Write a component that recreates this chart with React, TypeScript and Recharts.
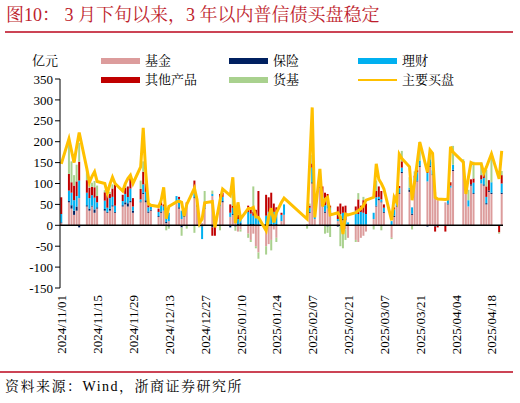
import React from 'react';
import { ComposedChart, Bar, Line, XAxis, YAxis, ReferenceLine } from 'recharts';

// trading days (calendar axis, weekends/holidays empty)
const tradeDates = [
  '2024/11/01',
  '2024/11/04', '2024/11/05', '2024/11/06', '2024/11/07', '2024/11/08',
  '2024/11/11', '2024/11/12', '2024/11/13', '2024/11/14', '2024/11/15',
  '2024/11/18', '2024/11/19', '2024/11/20', '2024/11/21', '2024/11/22',
  '2024/11/25', '2024/11/26', '2024/11/27', '2024/11/28', '2024/11/29',
  '2024/12/02', '2024/12/03', '2024/12/04', '2024/12/05', '2024/12/06',
  '2024/12/09', '2024/12/10', '2024/12/11', '2024/12/12', '2024/12/13',
  '2024/12/16', '2024/12/17', '2024/12/18', '2024/12/19', '2024/12/20',
  '2024/12/23', '2024/12/24', '2024/12/25', '2024/12/26', '2024/12/27',
  '2024/12/30', '2024/12/31', '2025/01/02', '2025/01/03',
  '2025/01/06', '2025/01/07', '2025/01/08', '2025/01/09', '2025/01/10',
  '2025/01/13', '2025/01/14', '2025/01/15', '2025/01/16', '2025/01/17',
  '2025/01/20', '2025/01/21', '2025/01/22', '2025/01/23', '2025/01/24',
  '2025/01/26', '2025/01/27',
  '2025/02/05', '2025/02/06', '2025/02/07', '2025/02/08',
  '2025/02/10', '2025/02/11', '2025/02/12', '2025/02/13', '2025/02/14',
  '2025/02/17', '2025/02/18', '2025/02/19', '2025/02/20', '2025/02/21',
  '2025/02/24', '2025/02/25', '2025/02/26', '2025/02/27', '2025/02/28',
  '2025/03/03', '2025/03/04', '2025/03/05', '2025/03/06', '2025/03/07',
  '2025/03/10', '2025/03/11', '2025/03/12', '2025/03/13', '2025/03/14',
  '2025/03/17', '2025/03/18', '2025/03/19', '2025/03/20', '2025/03/21',
  '2025/03/24', '2025/03/25', '2025/03/26', '2025/03/27', '2025/03/28',
  '2025/03/31', '2025/04/01', '2025/04/02', '2025/04/03',
  '2025/04/07', '2025/04/08', '2025/04/09', '2025/04/10', '2025/04/11',
  '2025/04/14', '2025/04/15', '2025/04/16', '2025/04/17', '2025/04/18',
  '2025/04/21', '2025/04/22',
];

// 基金
const fund = [
  5,
  55, 40, 25, 35, 65,
  45, 35, 45, 30, 40,
  35, 30, 35, 45, 30,
  45, 50, 45, 55, 30,
  55, 75, 55, 30, 35,
  20, 30, 35, 5, 10,
  55, 40, 15, 20, 45,
  65, 45, 10, 5, 40,
  70, 0, 45, 55,
  20, 25, 10, -15, -10,
  -20, -35, -20, -50, -65,
  -50, -45, -35, -10, -30,
  10, 25,
  3, 30, 100, 15,
  90, 55, 30, 40, 25,
  10, 10, 12, -10, -30,
  -35, -40, -30, -25, -15,
  15, 45, 60, 55, 30,
  -30, 20, 45, 75, 125,
  80, 25, 100, 105, 140,
  105, 140, 120, 80, 60,
  55, 50, 90, 130,
  150, 90, 45, 95, 75,
  100, 95, 50, 80, 75,
  0, 75,
];

// 保险
const insurance = [
  2,
  3, 8, 10, 10, -5,
  3, 5, 2, 8, 3,
  4, 2, 5, 3, 2,
  3, 5, 8, 3, 5,
  2, 3, 5, 3, 2,
  2, 3, 0, 3, -3,
  0, 3, -5, 2, 0,
  2, 3, 0, -3, 2,
  -5, 0, 0, 3,
  -5, 2, -3, 3, 5,
  2, 3, 3, 2, 2,
  3, 2, 3, 2, 3,
  0, 0,
  0, 2, 3, 0,
  2, 3, 3, -3, 2,
  -3, 2, 3, 2, 2,
  0, 2, 2, 0, 2,
  0, 2, 3, 2, 2,
  0, 3, 2, 2, 3,
  5, 3, 4, 2, 3,
  -3, 3, 2, -3, 0,
  0, 2, 0, 3,
  3, 0, 0, 3, 2,
  0, 3, 3, 3, 3,
  0, 3,
];

// 理财
const wealth = [
  20,
  25, 30, 25, 25, 42,
  30, 25, 25, 28, 12,
  20, 10, 25, 20, 15,
  10, 20, 15, 30, 10,
  5, 20, 20, 10, 8,
  10, 15, 10, 10, 20,
  15, 20, 20, 5, 5,
  10, 15, 5, -30, 5,
  5, 8, 5, 10,
  10, 15, 25, 12, 15,
  30, 25, 20, 20, 15,
  20, 30, 30, 30, 25,
  15, 25,
  0, 10, 35, 15,
  10, 10, 15, 10, 15,
  5, 15, 15, 10, 5,
  35, 25, 30, 30, 25,
  15, 20, 5, 5, 10,
  10, 15, 12, 12, 10,
  5, 15, 10, 20, 12,
  20, 15, 10, 0, 0,
  0, 12, 5, 12,
  0, 0, 15, 0, 25,
  10, 15, 15, 0, 25,
  0, 22,
];

// 其他产品
const otherProducts = [
  40,
  40, 25, 35, 35, 45,
  30, 25, 20, 25, 15,
  20, 30, 10, 20, 50,
  15, 15, 25, 25, 20,
  25, 30, 20, 5, 0,
  8, 8, 5, 0, 0,
  0, 5, 0, 5, 5,
  30, 5, 0, 0, 5,
  -20, -25, 25, 10,
  20, 5, 0, 10, 5,
  15, 10, 10, 15, 65,
  50, 35, 45, 20, 15,
  5, 0,
  0, 5, 10, 0,
  0, 25, 30, 25, 5,
  30, 25, 15, 35, 0,
  10, 35, 15, 30, 25,
  0, 15, 25, 20, 8,
  0, 5, 15, 5, 15,
  0, 0, 5, 5, 0,
  5, 0, 0, -12, -5,
  -15, 0, 8, 0,
  0, 15, 0, 12, 10,
  10, 10, 25, 25, 0,
  -17, 20,
];

// 货基
const moneyFund = [
  0,
  70, 50, 25, 40, 45,
  25, 10, 10, 15, 25,
  5, 0, 5, 10, 5,
  0, 10, 0, 5, 0,
  20, 25, 10, 0, 0,
  0, 0, 0, -12, -5,
  0, 0, -20, 0, -8,
  -18, 0, -5, 0, 30,
  8, 0, -12, 0,
  0, 30, -10, 25, -5,
  -10, -5, 60, -5, -15,
  -20, 0, -25, 0, -10,
  0, 0,
  -8, 5, 20, 0,
  30, 0, -20, -15, -28,
  0, -50, -55, -25, 0,
  -5, 15, 0, 8, 0,
  -10, 25, 0, -12, 0,
  -3, 0, 0, 0, 25,
  25, -10, 10, 10, 45,
  0, 20, 20, 0, 0,
  0, 0, 0, 45,
  5, 0, 25, 0, 40,
  30, 0, 40, 0, 70,
  -3, 10,
];

// 主要买盘
const mainBuy = [
  147,
  207, 178, 150, 188, 222,
  135, 103, 117, 128, 105,
  100, 77, 98, 115, 100,
  82, 100, 112, 120, 100,
  140, 233, 125, 52, 48,
  45, 60, 91, 16, 45,
  56, 58, 55, 22, 50,
  89, 62, 5, 15, 54,
  57, -5, 60, 87,
  71, 115, 5, 55, 15,
  40, 40, 43, 20, 19,
  -13, 20, 41, 7, 30,
  55, 65,
  15, 148, 282, 19,
  135, 45, 62, 67, 25,
  30, 20, -21, 27, 25,
  30, 35, 40, 47, 60,
  67, 147, 110, 100, 87,
  12, 67, 55, 170, 160,
  140, 60, 105, 150, 199,
  127, 180, 172, 67, 63,
  62, 63, 188, 175,
  151, 75, 115, 150, 147,
  147, 125, 139, 155, 171,
  111, 178,
];

const tickLabels = [
  '2024/11/01', '2024/11/15', '2024/11/29', '2024/12/13', '2024/12/27',
  '2025/01/10', '2025/01/24', '2025/02/07', '2025/02/21', '2025/03/07',
  '2025/03/21', '2025/04/04', '2025/04/18',
];

const yTicks = [-150, -100, -50, 0, 50, 100, 150, 200, 250, 300, 350];

const COLORS = {
  fund: '#dc9c9c',
  insurance: '#002060',
  wealth: '#00b0f0',
  other: '#c00000',
  mmf: '#a9d18e',
  main: '#ffc000',
};

const SERIF = '"Times New Roman", "Liberation Serif", "Noto Serif CJK SC", "Noto Sans CJK SC", serif';

const pad = (n: number) => String(n).padStart(2, '0');

// one row per calendar day, empty on non-trading days
function buildRows() {
  const rows: any[] = [];
  const start = Date.UTC(2024, 10, 1);
  const end = Date.UTC(2025, 3, 22);
  for (let t = start; t <= end; t += 86400000) {
    const d = new Date(t);
    const key = `${d.getUTCFullYear()}/${pad(d.getUTCMonth() + 1)}/${pad(d.getUTCDate())}`;
    const i = tradeDates.indexOf(key);
    if (i < 0) {
      rows.push({ date: key, fund: null, insurance: null, wealth: null, other: null, mmf: null, main: null });
    } else {
      rows.push({
        date: key,
        fund: fund[i],
        insurance: insurance[i],
        wealth: wealth[i],
        other: otherProducts[i],
        mmf: moneyFund[i],
        main: mainBuy[i],
      });
    }
  }
  return rows;
}

const rows = buildRows();

const DateTick = (props: any) => {
  const { x, payload } = props;
  if (!tickLabels.includes(payload.value)) return <g />;
  return (
    <text
      x={0}
      y={0}
      transform={`translate(${x + 0.5},295) rotate(-90)`}
      textAnchor="end"
      dominantBaseline="central"
      fontSize={13}
      fontFamily={SERIF}
      fill="#000"
    >
      {payload.value}
    </text>
  );
};

const legendItems = [
  { name: '基金', color: COLORS.fund, x: 101, y: 61 },
  { name: '保险', color: COLORS.insurance, x: 229, y: 61 },
  { name: '理财', color: COLORS.wealth, x: 358, y: 61 },
  { name: '其他产品', color: COLORS.other, x: 101, y: 80 },
  { name: '货基', color: COLORS.mmf, x: 229, y: 80 },
  { name: '主要买盘', color: COLORS.main, x: 358, y: 80, line: true },
];

export default function App() {
  return (
    <div style={{ position: 'absolute', left: 0, top: 0, width: 520, height: 403, background: '#fff', fontFamily: SERIF }}>
      <div style={{ position: 'absolute', left: 6, top: 3, fontSize: 18, lineHeight: '24px', color: '#be1e2d', whiteSpace: 'nowrap' }}>
        图10：&nbsp;3 月下旬以来，3 年以内普信债买盘稳定
      </div>
      <div style={{ position: 'absolute', left: 5, top: 31, width: 508, height: 1.5, background: '#cc4455' }} />

      <div style={{ position: 'absolute', left: 32, top: 52, fontSize: 13, lineHeight: '18px' }}>亿元</div>
      {legendItems.map((it) => (
        <div key={it.name} style={{ position: 'absolute', left: it.x, top: it.y - 9, height: 18, display: 'flex', alignItems: 'center' }}>
          <div style={{ width: 39, height: it.line ? 2.5 : 6, background: it.color }} />
          <span style={{ marginLeft: 5, fontSize: 13, lineHeight: '18px', color: '#000' }}>{it.name}</span>
        </div>
      ))}

      <div style={{ position: 'absolute', left: 0, top: 0 }}>
        <ComposedChart
          width={520}
          height={403}
          data={rows}
          stackOffset="sign"
          barCategoryGap="10%"
          margin={{ top: 79, right: 17, bottom: 0, left: 0 }}
        >
          <XAxis
            dataKey="date"
            interval={0}
            axisLine={false}
            tickLine={false}
            height={115}
            tick={<DateTick />}
          />
          <YAxis
            width={60}
            domain={[-150, 350]}
            ticks={yTicks}
            interval={0}
            tickSize={5}
            axisLine={{ stroke: '#000', strokeWidth: 1 }}
            tickLine={{ stroke: '#000' }}
            tick={{ fontSize: 13, fontFamily: SERIF, fill: '#000' }}
          />
          <Bar dataKey="fund" stackId="a" fill={COLORS.fund} isAnimationActive={false} />
          <Bar dataKey="insurance" stackId="a" fill={COLORS.insurance} isAnimationActive={false} />
          <Bar dataKey="wealth" stackId="a" fill={COLORS.wealth} isAnimationActive={false} />
          <Bar dataKey="other" stackId="a" fill={COLORS.other} isAnimationActive={false} />
          <Bar dataKey="mmf" stackId="a" fill={COLORS.mmf} isAnimationActive={false} />
          <ReferenceLine y={0} stroke="#000" strokeWidth={1.5} />
          <Line
            dataKey="main"
            type="linear"
            stroke={COLORS.main}
            strokeWidth={3}
            dot={false}
            connectNulls
            isAnimationActive={false}
          />
        </ComposedChart>
      </div>

      <div style={{ position: 'absolute', left: 0, top: 371, width: 513, height: 1.5, background: '#cc4455' }} />
      <div style={{ position: 'absolute', left: 5, top: 378, fontSize: 14, letterSpacing: 1.5, lineHeight: '18px', whiteSpace: 'nowrap' }}>
        资料来源：Wind，浙商证券研究所
      </div>
    </div>
  );
}
